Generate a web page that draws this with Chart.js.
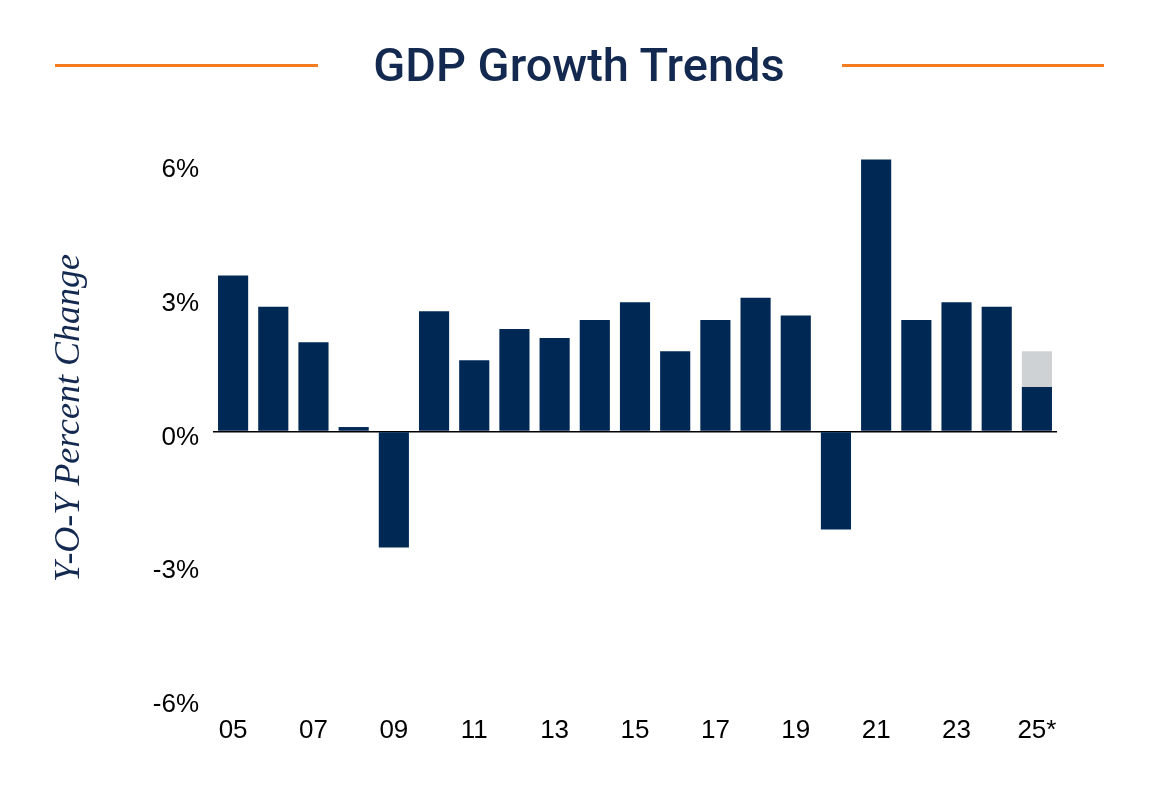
<!DOCTYPE html>
<html>
<head>
<meta charset="utf-8">
<script src="https://cdn.jsdelivr.net/npm/chart.js@4.4.1/dist/chart.umd.min.js"></script>
<style>
  body{margin:0;background:#fff;}
  .wrap{position:relative;width:1168px;height:789px;overflow:hidden;}
  .wrap canvas{position:absolute;left:0;top:0;}
  .rule{position:absolute;top:64px;height:3px;background:#F47B20;}
  .title{position:absolute;left:579px;top:37px;transform:translateX(-50%);
    font-family:Roboto,"Liberation Sans",sans-serif;font-weight:500;font-size:47px;color:#13294F;white-space:nowrap;}
</style>
</head>
<body>
<div class="wrap">
  <canvas id="gdpChart" width="1168" height="789"></canvas>
  <div class="rule" style="left:55px;width:263px"></div>
  <div class="rule" style="left:842px;width:262px"></div>
  <div class="title" id="title">GDP Growth Trends</div>
</div>
<script>
// Data
const years = ['05','06','07','08','09','10','11','12','13','14','15','16','17','18','19','20','21','22','23','24','25*'];
const gdpGrowth = [3.5,2.8,2.0,0.1,-2.6,2.7,1.6,2.3,2.1,2.5,2.9,1.8,2.5,3.0,2.6,-2.2,6.1,2.5,2.9,2.8,1.0];
// 2025 forecast part on top of the actual
const forecastExtra = [null,null,null,null,null,null,null,null,null,null,null,null,null,null,null,null,null,null,null,null,0.8];
const yTicks = [-6,-3,0,3,6];

const NAVY = '#002855';
const GREY = '#CFD2D5';

const ctx = document.getElementById('gdpChart').getContext('2d');
new Chart(ctx, {
  type:'bar',
  data:{
    labels:years,
    datasets:[
      {label:'GDP', data:gdpGrowth, backgroundColor:NAVY, clip:false},
      {label:'Forecast', data:forecastExtra, backgroundColor:GREY, clip:false}
    ]
  },
  options:{
    responsive:false,
    animation:false,
    layout:{padding:{top:164,right:111,left:0,bottom:0}},
    plugins:{legend:{display:false}, tooltip:{enabled:false}},
    datasets:{bar:{categoryPercentage:1, barPercentage:0.75}},
    scales:{
      x:{
        stacked:true,
        grid:{display:false, drawTicks:false},
        border:{display:false},
        ticks:{
          autoSkip:false, maxRotation:0, padding:16, color:'#000',
          font:{family:'"Liberation Sans", Arial, sans-serif', size:26},
          callback:(v,i)=> i%2===0 ? years[i] : ''
        },
        afterFit:(s)=>{ s.height = 90; }
      },
      y:{
        stacked:true,
        min:yTicks[0], max:yTicks[yTicks.length-1],
        afterBuildTicks:(s)=>{ s.ticks = yTicks.map(v=>({value:v})); },
        border:{display:false},
        grid:{
          drawTicks:false,
          color:(c)=> c.tick && c.tick.value===0 ? '#000' : 'rgba(0,0,0,0)',
          lineWidth:1.5
        },
        ticks:{
          padding:14, labelOffset:6, color:'#000',
          font:{family:'"Liberation Sans", Arial, sans-serif', size:26},
          callback:(v)=> v+'%'
        },
        title:{
          display:true, text:'   Y-O-Y Percent Change', color:'#13294F',
          font:{family:'"Liberation Serif", "Times New Roman", serif', style:'italic', size:36},
          padding:{top:48}
        },
        afterFit:(s)=>{ s.width = 213; }
      }
    }
  }
});
</script>
</body>
</html>
